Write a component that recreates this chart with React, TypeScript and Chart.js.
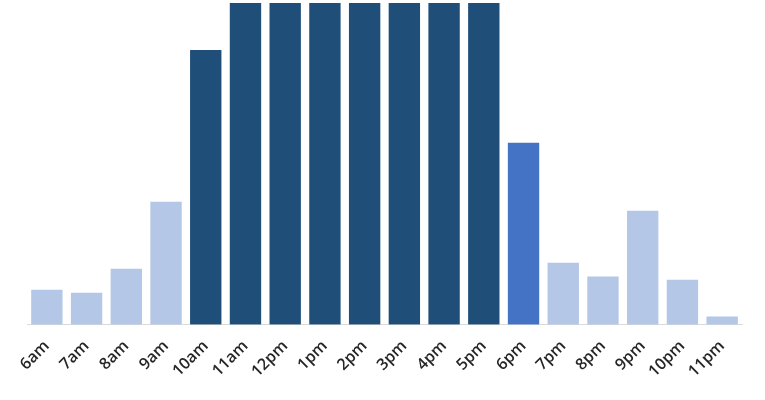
import React, { useEffect, useRef } from "react";
import { Chart, registerables } from "chart.js";

Chart.register(...registerables);

const hours = ["6am","7am","8am","9am","10am","11am","12pm","1pm","2pm","3pm","4pm","5pm","6pm","7pm","8pm","9pm","10pm","11pm"];
const values = [11.1, 10.2, 17.6, 38.4, 85.4, 100, 100, 100, 100, 100, 100, 100, 56.7, 19.5, 15.2, 35.6, 14.2, 2.8];
const levels = ["low","low","low","low","high","high","high","high","high","high","high","high","mid","low","low","low","low","low"];

const levelColors: Record<string, string> = {
  low: "#b4c7e7",
  mid: "#4472c4",
  high: "#1f4e79",
};

export default function App() {
  const ref = useRef<HTMLCanvasElement | null>(null);
  useEffect(() => {
    if (!ref.current) return;
    const chart = new Chart(ref.current, {
      type: "bar",
      data: {
        labels: hours,
        datasets: [
          {
            data: values,
            backgroundColor: levels.map((l) => levelColors[l]),
            borderColor: "rgba(255,255,255,0.35)",
            borderWidth: 1,
            barPercentage: 0.84,
            categoryPercentage: 1,
          },
        ],
      },
      options: {
        animation: false,
        responsive: true,
        maintainAspectRatio: false,
        layout: { padding: { top: 2, left: 27, right: 23, bottom: 15 } },
        plugins: { legend: { display: false }, tooltip: { enabled: false } },
        scales: {
          x: {
            grid: { display: false },
            border: { display: true, color: "#d9d9d9", width: 1 },
            ticks: {
              maxRotation: 45,
              minRotation: 45,
              color: "#262626",
              font: { family: "'Open Sans'", size: 16, weight: 600 },
              padding: 4,
            },
          },
          y: { display: false, min: 0, max: 100 },
        },
      },
    });
    return () => chart.destroy();
  }, []);
  return (
    <div style={{ position: "fixed", left: 0, top: 0, width: 765, height: 400 }}>
      <canvas ref={ref} />
    </div>
  );
}
